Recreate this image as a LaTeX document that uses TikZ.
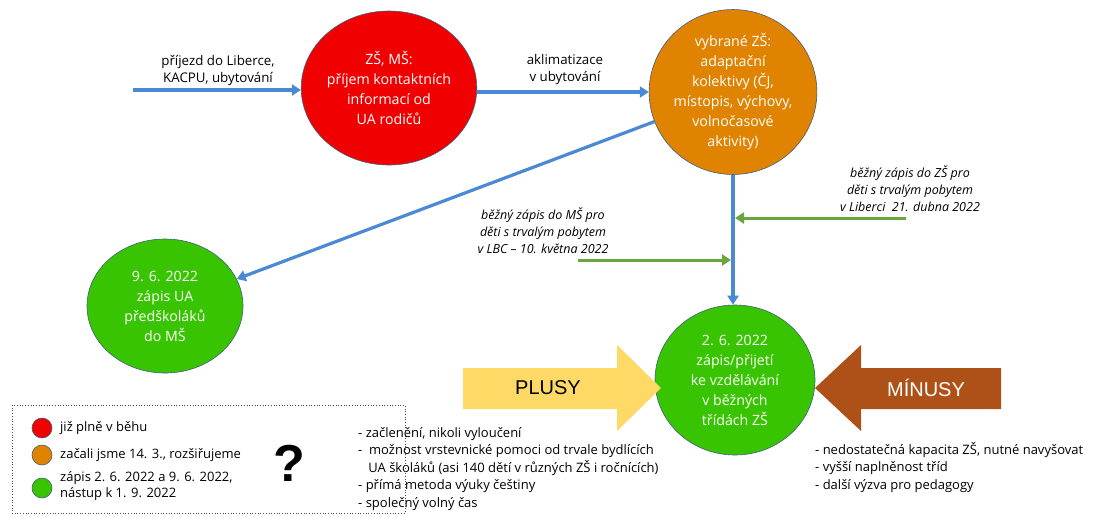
\documentclass[tikz,border=0pt]{standalone}
\usepackage{fontspec}
\setmainfont{Open Sans}
\newfontfamily\arialfont{Liberation Sans}
\usetikzlibrary{arrows.meta,shapes.geometric}
\definecolor{cred}{HTML}{F00000}
\definecolor{corange}{HTML}{E08300}
\definecolor{cgreen}{HTML}{38C400}
\definecolor{cblue}{HTML}{4A89D3}
\definecolor{carrgreen}{HTML}{6AA63C}
\definecolor{cyellow}{HTML}{FFD966}
\definecolor{cbrown}{HTML}{AE5119}
\definecolor{cedge}{HTML}{3F5F7F}
\tikzset{
  circ/.style={ellipse, draw=cedge, line width=0.6pt, inner sep=0pt, align=center, text=white, font=\fontsize{14.2}{20}\selectfont},
  flow/.style={draw=cblue, line width=3.2pt, -{Triangle[length=9pt,width=11pt]}},
  gflow/.style={draw=carrgreen, line width=3pt, -{Triangle[length=9pt,width=11pt]}},
  lbl/.style={align=center, font=\fontsize{13.3}{17}\selectfont, inner sep=0pt},
  ilbl/.style={align=center, font=\fontsize{12.5}{17}\selectfont\itshape, inner sep=0pt},
  lst/.style={align=left, anchor=north west, font=\fontsize{13}{17.5}\selectfont, inner sep=0pt},
  leg/.style={circle, draw=cedge, line width=0.6pt, minimum size=20pt, inner sep=0pt},
  legt/.style={anchor=west, font=\fontsize{13}{16}\selectfont, inner sep=0pt, align=left},
  bigarr/.style={font=\arialfont\fontsize{20}{22}\selectfont, inner sep=0pt},
}
\begin{document}
\begin{tikzpicture}[x=1pt,y=-1pt]
\useasboundingbox[fill=white] (0,0) rectangle (1102,515);

% circles
\node[circ, fill=cred, minimum width=164pt, minimum height=154pt] (red) at (389,88)
  {ZŠ, MŠ:\\příjem kontaktních\\informací od\\UA rodičů};
\node[circ, fill=corange, minimum width=160pt, minimum height=160pt] (orange) at (733,92)
  {vybrané ZŠ:\\adaptační\\kolektivy (ČJ,\\místopis, výchovy,\\volnočasové\\aktivity)};
\node[circ, fill=cgreen, minimum width=156pt, minimum height=134pt] (greenL) at (165,306)
  {9. 6. 2022\\zápis UA\\předškoláků\\do MŠ};
\node[circ, fill=cgreen, minimum width=160pt, minimum height=150pt] (greenR) at (735,380)
  {2. 6. 2022\\zápis/přijetí\\ke vzdělávání\\v běžných\\třídách ZŠ};

% blue flows
\coordinate (start) at (133,90);
\draw[flow] (start) -- (red.west |- start);
\draw[flow] (red.east |- 0,92) -- (orange.west |- 0,92);
\draw[flow] (orange) -- (greenL);
\coordinate (vtop) at (733,170);
\draw[flow] (orange.south -| vtop) -- (greenR.north -| vtop);

\node[lbl] (l1) at (218,70) {příjezd do Liberce,\\KACPU, ubytování};
\node[lbl] (l2) at (565,70) {aklimatizace\\v ubytování};

% green flows
\coordinate (g1s) at (906,218);
\coordinate (g1e) at (735,218);
\draw[gflow] (g1s) -- (g1e);
\coordinate (g2s) at (578,260);
\coordinate (g2e) at (731,260);
\draw[gflow] (g2s) -- (g2e);
\node[ilbl] (l3) at (910,189) {běžný zápis do ZŠ pro\\děti s trvalým pobytem\\v Liberci\ \ 21. dubna 2022};
\node[ilbl] (l4) at (543,231) {běžný zápis do MŠ pro\\děti s trvalým pobytem\\v LBC – 10. května 2022};

% PLUSY / MINUSY arrows
\fill[cyellow] (463,368) -- (617,368) -- (617,345) -- (661,388) -- (617,431) -- (617,409) -- (463,409) -- cycle;
\node[bigarr] (plus) at (548,388) {PLUSY};
\fill[cbrown] (1001,368) -- (861,368) -- (861,345) -- (815,388) -- (861,431) -- (861,409) -- (1001,409) -- cycle;
\node[bigarr, text=white] (minus) at (926,388) {MÍNUSY};

% lists
\node[lst] (plist) at (358,427) {- začlenění, nikoli vyloučení\\
-\ \ možnost vrstevnické pomoci od trvale bydlících\\
\ \ \ UA školáků (asi 140 dětí v různých ZŠ i ročnících)\\
- přímá metoda výuky češtiny\\
- společný volný čas};
\node[lst] (mlist) at (815,442) {- nedostatečná kapacita ZŠ, nutné navyšovat\\
- vyšší naplněnost tříd\\
- další výzva pro pedagogy};

% legend
\draw[dotted, line width=0.7pt, draw=black!70] (12,405) rectangle (405,513);
\node[leg, fill=cred] (c1) at (42,428) {};
\node[leg, fill=corange] (c2) at (42,455) {};
\node[leg, fill=cgreen] (c3) at (42,488) {};
\node[legt] (t1) at (60,428) {již plně v běhu};
\node[legt] (t2) at (60,455) {začali jsme 14. 3., rozšiřujeme};
\node[legt, anchor=north west] (t3) at (60,471) {zápis 2. 6. 2022 a 9. 6. 2022,\\nástup k 1. 9. 2022};
\node[font=\arialfont\bfseries\fontsize{52}{52}\selectfont, inner sep=0pt] (q) at (289,463) {?};
\end{tikzpicture}
\end{document}
